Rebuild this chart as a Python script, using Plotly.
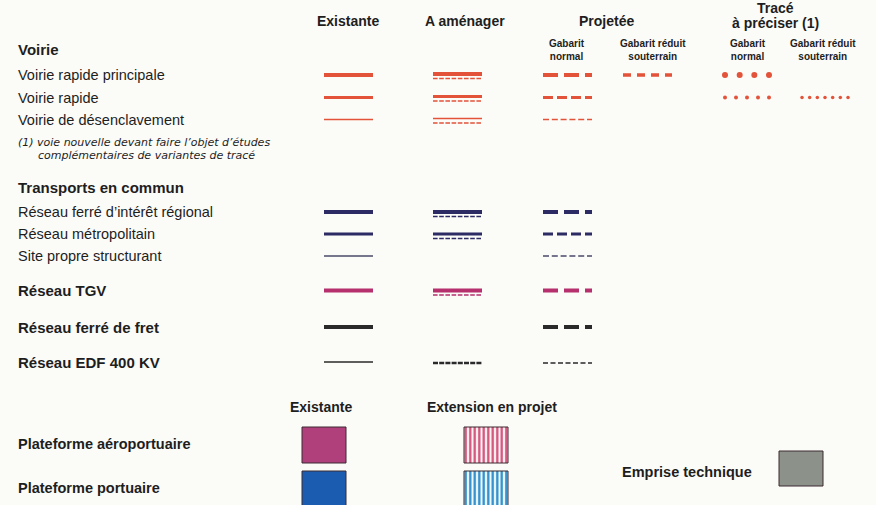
import numpy as np
import plotly.graph_objects as go

# --- legend content -------------------------------------------------------
col_headers = ["Existante", "A aménager", "Projetée"]
traced_header = ["Tracé", "à préciser (1)"]
sub_headers = ["Gabarit<br>normal", "Gabarit réduit<br>souterrain", "Gabarit<br>normal", "Gabarit réduit<br>souterrain"]

voirie_rows = ["Voirie rapide principale", "Voirie rapide", "Voirie de désenclavement"]
tc_rows = ["Réseau ferré d’intérêt régional", "Réseau métropolitain", "Site propre structurant"]
other_rows = ["Réseau TGV", "Réseau ferré de fret", "Réseau EDF 400 KV"]
footnote = ["(1) voie nouvelle devant faire l’objet d’études", "complémentaires de variantes de tracé"]

plat_headers = ["Existante", "Extension en projet"]
plat_rows = ["Plateforme aéroportuaire", "Plateforme portuaire"]

# which symbols each line row has: existante / a amenager / projetee
tc_has = [(1, 1, 1), (1, 1, 1), (1, 0, 1)]

RED = "#e2533a"
NAVY = "#2d2b63"
GREYNAVY = "#4a4a6a"
TGV = "#b5306c"
BLACK = "#2a2a2a"
TXT = "#1e1e1e"
FONT = "Liberation Sans"

fig = go.Figure()


def line(x0, x1, y, color, width, dash="solid"):
    fig.add_trace(go.Scatter(x=[x0, x1], y=[y, y], mode="lines",
                             line=dict(color=color, width=width, dash=dash),
                             hoverinfo="skip", showlegend=False))


def double(x0, x1, y, color, width):
    line(x0, x1, y, color, width)
    line(x0, x1, y + 4.5, color, 1.3, "4.6px,1.6px")


def dots(x0, x1, y, color, n, size):
    fig.add_trace(go.Scatter(x=np.linspace(x0, x1, n), y=[y] * n, mode="markers",
                             marker=dict(color=color, size=size, line=dict(width=0)),
                             hoverinfo="skip", showlegend=False))


def text(x, y, s, size=14.5, bold=False, italic=False, anchor="left", family=FONT):
    fig.add_annotation(x=x, y=y, text=(f"<b>{s}</b>" if bold else (f"<i>{s}</i>" if italic else s)),
                       showarrow=False, xanchor=anchor, yanchor="middle", borderpad=0,
                       font=dict(family=family, size=size, color=TXT))


EX = (324, 373)
AM = (433, 482)
PR = (543, 592)
widths = [4, 3, 1.5]
proj_dash = ["15px,6px", "10px,4px", "6px,2.8px"]
LX = 17

# headers
for h, x in zip(col_headers, [348, 465, 606]):
    text(x, 21, h, size=14, bold=True, anchor="center")
text(775, 7.5, traced_header[0], size=14, bold=True, anchor="center")
text(775, 23, traced_header[1], size=14, bold=True, anchor="center")
for h, x in zip(sub_headers, [567, 653, 748, 823]):
    text(x, 50, h, size=10, bold=True, anchor="center")

# Voirie
text(LX, 49, "Voirie", size=15, bold=True)
vy = [75, 97.5, 119.5]
for lab, y, w, d in zip(voirie_rows, vy, widths, proj_dash):
    text(LX, y, lab)
    line(*EX, y, RED, w)
    double(*AM, y - 1, RED, w)
    line(*PR, y, RED, w, d)
line(623, 672, vy[0], RED, 3.5, "8px,6px")
dots(725, 769, vy[0], RED, 4, 6)
dots(725, 769, vy[1], RED, 5, 4)
dots(802, 848, vy[1], RED, 7, 3.5)

text(LX, 142.5, footnote[0], size=11, italic=True, family="DejaVu Sans")
text(37, 155.5, footnote[1], size=11, italic=True, family="DejaVu Sans")

# Transports en commun
text(LX, 187, "Transports en commun", size=15, bold=True)
ty = [212, 234, 256]
for lab, y, w, d, has, c in zip(tc_rows, ty, widths, proj_dash, tc_has, [NAVY, NAVY, GREYNAVY]):
    text(LX, y, lab)
    line(*EX, y, c, w)
    if has[1]:
        double(*AM, y, c, w)
    line(*PR, y, c, w, d)

# TGV / fret / EDF
oy = [290.5, 327, 362]
for lab, y in zip(other_rows, oy):
    text(LX, y, lab, size=15, bold=True)
line(*EX, oy[0], TGV, 4)
double(*AM, oy[0], TGV, 4)
line(*PR, oy[0], TGV, 4, "15px,6px")
line(*EX, oy[1], BLACK, 4)
line(*PR, oy[1], BLACK, 4, "15px,6px")
line(*EX, oy[2], BLACK, 1.5)
line(*AM, oy[2] + 1, BLACK, 2.5, "5px,1.2px")
line(*PR, oy[2] + 1, BLACK, 1.5, "5px,2.5px")

# Plateformes
text(321, 407, plat_headers[0], size=14, bold=True, anchor="center")
text(492, 407, plat_headers[1], size=14, bold=True, anchor="center")
py = [(427, 463), (471, 507)]
for lab, (y0, y1) in zip(plat_rows, py):
    text(LX, (y0 + y1) / 2 - 1, lab, size=14.5, bold=True)


def box(x0, x1, y0, y1, fill, pattern=None):
    fig.add_trace(go.Scatter(x=[x0, x1, x1, x0, x0], y=[y0, y0, y1, y1, y0], mode="lines",
                             fill="toself", fillcolor=fill, fillpattern=pattern,
                             line=dict(color="#3a2a30", width=1),
                             hoverinfo="skip", showlegend=False))


box(302, 346, *py[0], "#b0407c")
box(302, 346, *py[1], "#1c5cb0")
box(464, 508, *py[0], "#ffffff", dict(shape="|", fgcolor="#d0507a", bgcolor="#fff3f3",
                                      fgopacity=1, size=4.5, solidity=0.5))
box(464, 508, *py[1], "#ffffff", dict(shape="|", fgcolor="#2a8cc8", bgcolor="#eefaff",
                                      fgopacity=1, size=4.5, solidity=0.5))

text(621, 472, "Emprise technique", size=14.5, bold=True)
box(779, 823, 451, 486, "#8c918a")

fig.update_layout(
    width=876, height=505,
    margin=dict(l=0, r=0, t=0, b=0),
    paper_bgcolor="#fbfbf8", plot_bgcolor="#fbfbf8",
    xaxis=dict(range=[0, 876], visible=False, fixedrange=True),
    yaxis=dict(range=[505, 0], visible=False, fixedrange=True),
)

fig.write_html("out.html", config={"displayModeBar": False},
               post_script="document.body.style.margin='0';document.body.style.background='#fbfbf8';")
